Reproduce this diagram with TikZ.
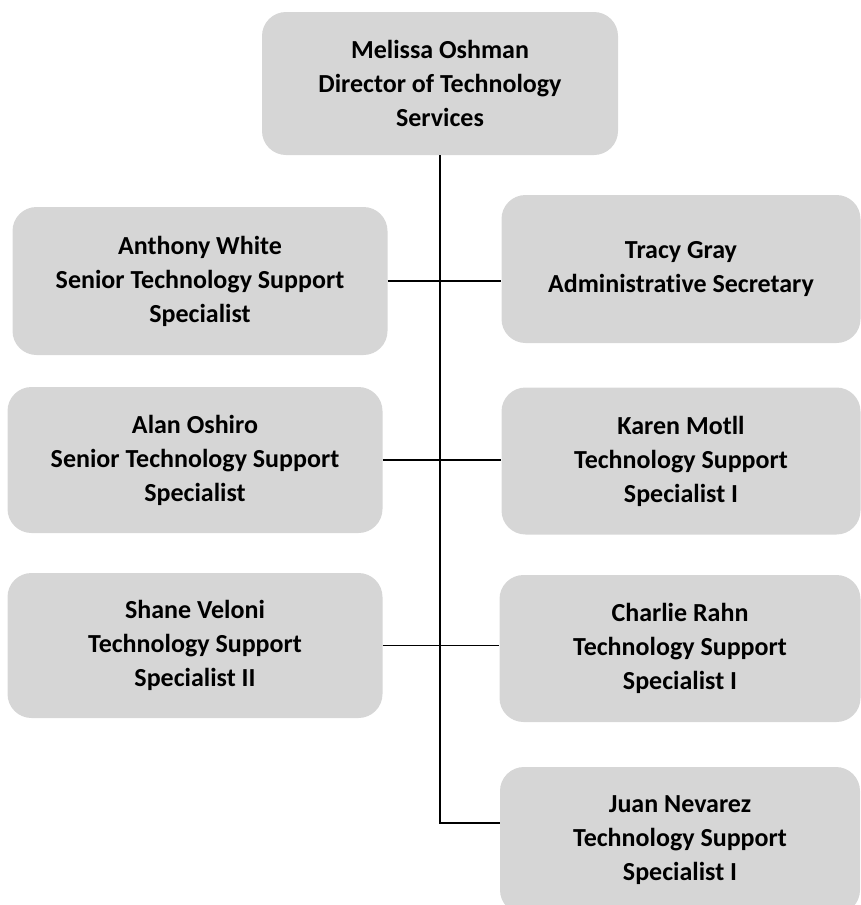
\documentclass[tikz,border=0pt]{standalone}
\usepackage{fontspec}
\setmainfont{Carlito}[Ligatures=NoCommon]
\usepackage{xcolor}
\usetikzlibrary{positioning}
\definecolor{boxgray}{gray}{0.84}
\tikzset{staffbox/.style={rectangle, rounded corners=24pt, fill=boxgray, inner sep=0pt,
    align=center, font=\bfseries\fontsize{26}{34}\selectfont}}
\tikzset{orgline/.style={line width=1.6pt, black}}

\begin{document}
\begin{tikzpicture}[x=1pt, y=-1pt]
\clip (0,0) rectangle (861,905);
\begin{scope}[every node/.style={staffbox}]
  \node[minimum width=356pt, minimum height=143pt] (oshman) at (440,83.5) {Melissa Oshman\\Director of Technology\\Services};
  \node[minimum width=375pt, minimum height=148pt] (white) at (200,281) {Anthony White\\Senior Technology Support\\Specialist};
  \node[minimum width=359pt, minimum height=148pt] (gray) at (681,269) {Tracy Gray\\Administrative Secretary};
  \node[minimum width=375pt, minimum height=146pt] (oshiro) at (195,460) {Alan Oshiro\\Senior Technology Support\\Specialist};
  \node[minimum width=359pt, minimum height=147pt] (motll) at (681,461) {Karen Motll\\Technology Support\\Specialist I};
  \node[minimum width=375pt, minimum height=145pt] (veloni) at (195,645.5) {Shane Veloni\\Technology Support\\Specialist II};
  \node[minimum width=361pt, minimum height=147pt] (rahn) at (680,648.5) {Charlie Rahn\\Technology Support\\Specialist I};
  \node[minimum width=360pt, minimum height=147pt] (nevarez) at (680,840.5) {Juan Nevarez\\Technology Support\\Specialist I};
\end{scope}
\coordinate (spine) at (440,823);
\draw[orgline] (oshman.south) -- (spine) -- (nevarez.west |- spine);
\draw[orgline] (white.east) -- (gray.west |- white.east);
\draw[orgline] (oshiro.east) -- (motll.west |- oshiro.east);
\draw[orgline] (veloni.east) -- (rahn.west |- veloni.east);
\end{tikzpicture}
\end{document}
